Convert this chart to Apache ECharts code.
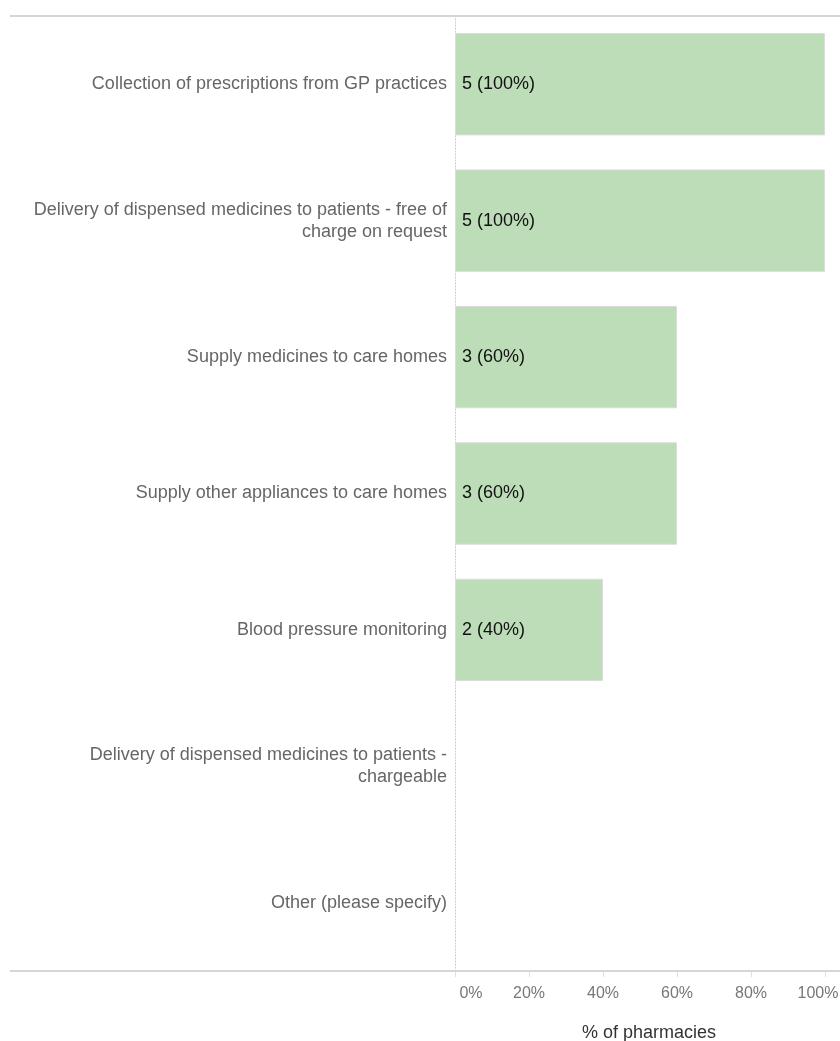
<!DOCTYPE html>
<html>
<head>
<meta charset="utf-8">
<style>
  html, body { margin: 0; padding: 0; background: #fff; }
  #chart { width: 840px; height: 1041px; }
</style>
<script src="https://cdn.jsdelivr.net/npm/echarts@6/dist/echarts.min.js"></script>
</head>
<body>
<div id="chart"></div>
<script>
// Services offered by pharmacies (number of pharmacies responding)
const categories = [
  'Collection of prescriptions from GP practices',
  'Delivery of dispensed medicines to patients - free of\ncharge on request',
  'Supply medicines to care homes',
  'Supply other appliances to care homes',
  'Blood pressure monitoring',
  'Delivery of dispensed medicines to patients -\nchargeable',
  'Other (please specify)'
];
const counts = [5, 5, 3, 3, 2, 0, 0];
const percents = [100, 100, 60, 60, 40, 0, 0];
const totalPharmacies = 5;
const tickValues = [0, 20, 40, 60, 80, 100];

const FONT = '"Liberation Sans", Arial, Helvetica, sans-serif';
const chart = echarts.init(document.getElementById('chart'));

// zero-length bars get no outline
const seriesData = percents.map((p, i) => ({
  value: p,
  count: counts[i],
  itemStyle: p === 0 ? { borderWidth: 0, opacity: 0 } : undefined
}));

chart.setOption({
  animation: false,
  textStyle: { fontFamily: FONT },
  grid: { left: 455, right: 15, top: 16, bottom: 70, containLabel: false, outerBoundsMode: 'none' },
  xAxis: {
    type: 'value',
    min: 0,
    max: 100,
    interval: 20,
    name: '% of pharmacies',
    nameLocation: 'middle',
    nameGap: 53,
    nameTextStyle: { color: '#333', fontSize: 18, fontFamily: FONT, padding: [0, 0, 0, 18] },
    axisLine: { show: false },
    axisTick: { show: true, inside: false, length: 6, lineStyle: { color: '#e0e0e0', width: 1 } },
    splitLine: { show: false },
    axisLabel: {
      color: '#777',
      fontSize: 16,
      fontFamily: FONT,
      margin: 15,
      formatter: function (v) {
        if (v === tickValues[0]) return '{first|' + v + '%}';
        if (v === tickValues[tickValues.length - 1]) return '{last|' + v + '%}';
        return v + '%';
      },
      rich: {
        first: { color: '#777', fontSize: 16, fontFamily: FONT, padding: [0, 0, 0, 32] },
        last: { color: '#777', fontSize: 16, fontFamily: FONT, padding: [0, 14, 0, 0] }
      }
    }
  },
  yAxis: {
    type: 'category',
    data: categories,
    inverse: true,
    axisLine: { show: true, lineStyle: { color: '#c8c8c8', type: [1, 2], width: 1 } },
    axisTick: { show: false },
    splitLine: { show: false },
    axisLabel: {
      color: '#666',
      fontSize: 18,
      fontFamily: FONT,
      lineHeight: 22,
      margin: 8,
      align: 'right'
    }
  },
  graphic: [
    { type: 'line', z: 10, shape: { x1: 10, y1: 16, x2: 840, y2: 16 }, style: { stroke: '#d6d6d6', lineWidth: 2 } },
    { type: 'line', z: 10, shape: { x1: 10, y1: 971, x2: 840, y2: 971 }, style: { stroke: '#d6d6d6', lineWidth: 2 } }
  ],
  series: [{
    type: 'bar',
    data: seriesData,
    barCategoryGap: '25%',
    itemStyle: { color: '#bddcb8', borderColor: '#dcdcdc', borderWidth: 1 },
    label: {
      show: true,
      position: 'insideLeft',
      distance: 7,
      color: '#111',
      fontSize: 18,
      fontFamily: FONT,
      formatter: function (p) {
        const c = p.data.count;
        if (!c) return '';
        return c + ' (' + Math.round(c / totalPharmacies * 100) + '%)';
      }
    }
  }]
});
</script>
</body>
</html>
